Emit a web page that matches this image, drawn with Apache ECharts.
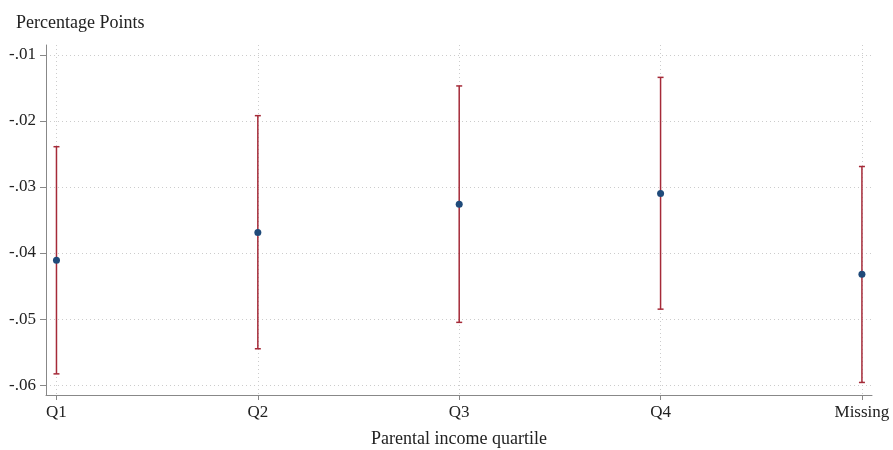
<!DOCTYPE html>
<html><head><meta charset="utf-8">
<script src="https://cdn.jsdelivr.net/npm/echarts@6/dist/echarts.min.js"></script>
<style>html,body{margin:0;padding:0;background:#fff}#c{width:893px;height:450px}</style>
</head><body><div id="c"></div>
<script>
const categories = ['Q1', 'Q2', 'Q3', 'Q4', 'Missing'];
const estimates = [-0.0411, -0.0369, -0.0326, -0.0310, -0.0432];
const lowerCI = [-0.0583, -0.0545, -0.0505, -0.0485, -0.0596];
const upperCI = [-0.0239, -0.0192, -0.0147, -0.0134, -0.0269];
const yTicks = [-0.06, -0.05, -0.04, -0.03, -0.02, -0.01];
const xTicks = [0, 1, 2, 3, 4];

const FONT = '"Liberation Serif", serif';
const fmtY = v => { const s = v.toFixed(2); return s.replace('0.', '.'); };

const chart = echarts.init(document.getElementById('c'), null, {renderer: 'canvas'});
chart.setOption({
  animation: false,
  backgroundColor: '#fff',
  textStyle: {fontFamily: FONT},
  title: {text: 'Percentage Points', left: 11, top: 9,
    textStyle: {fontFamily: FONT, fontSize: 18, fontWeight: 'normal', color: '#222'}},
  grid: {left: 46, right: 21, top: 45, bottom: 55, outerBoundsMode: 'none', containLabel: false},
  xAxis: {
    type: 'value', min: -0.052, max: 4.05,
    name: 'Parental income quartile', nameLocation: 'middle', nameGap: 35,
    nameTextStyle: {fontFamily: FONT, fontSize: 18, color: '#222'},
    axisLine: {show: true, onZero: false, lineStyle: {color: '#888', width: 1}},
    axisTick: {show: true, length: 5, customValues: xTicks, lineStyle: {color: '#888'}},
    axisLabel: {customValues: xTicks, formatter: v => categories[Math.round(v)] || '',
      fontFamily: FONT, fontSize: 17, color: '#222', margin: 9, showMinLabel: true, showMaxLabel: true},
    splitLine: {show: true, lineStyle: {type: [1, 3], color: '#cccccc', width: 1}}
  },
  yAxis: {
    type: 'value', min: -0.0615, max: -0.0085,
    axisLine: {show: true, onZero: false, lineStyle: {color: '#888', width: 1}},
    axisTick: {show: true, length: 6, customValues: yTicks, lineStyle: {color: '#888'}},
    axisLabel: {customValues: yTicks, formatter: fmtY, fontFamily: FONT, fontSize: 17, color: '#222', margin: 10},
    splitLine: {show: true, lineStyle: {type: [1, 3], color: '#cccccc', width: 1}}
  },
  series: [
    {
      type: 'custom',
      data: categories.map((c, i) => [i, lowerCI[i], upperCI[i]]),
      renderItem: (params, api) => {
        const x = api.value(0);
        const lo = api.coord([x, api.value(1)]);
        const hi = api.coord([x, api.value(2)]);
        const hw = 3;
        const st = {stroke: '#a52a38', lineWidth: 1.5};
        return {type: 'group', children: [
          {type: 'line', shape: {x1: lo[0], y1: lo[1], x2: hi[0], y2: hi[1]}, style: st},
          {type: 'line', shape: {x1: lo[0]-hw, y1: lo[1], x2: lo[0]+hw, y2: lo[1]}, style: st},
          {type: 'line', shape: {x1: hi[0]-hw, y1: hi[1], x2: hi[0]+hw, y2: hi[1]}, style: st}
        ]};
      },
      z: 2
    },
    {
      type: 'scatter',
      data: categories.map((c, i) => [i, estimates[i]]),
      symbol: 'circle', symbolSize: 7,
      itemStyle: {color: '#1f4a7a', opacity: 1},
      z: 3
    }
  ]
});
</script></body></html>
